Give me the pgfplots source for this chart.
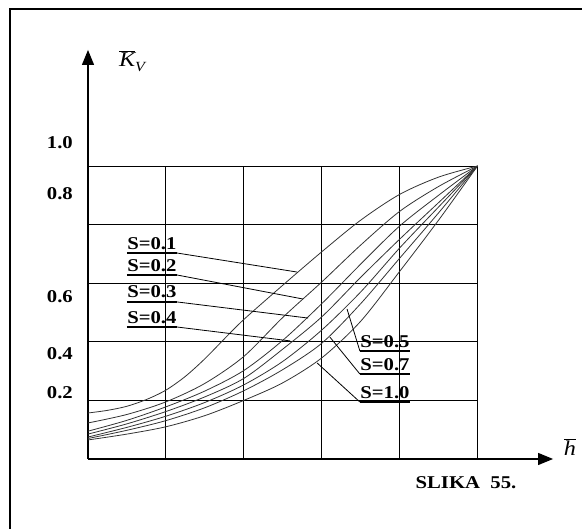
\documentclass[border=0pt]{standalone}
\usepackage{fontspec}
\setmainfont{Liberation Serif}
\newfontfamily\wide[FakeStretch=1.15]{Liberation Serif}
\usepackage{pgfplots}
\pgfplotsset{compat=1.18}
\usetikzlibrary{arrows.meta}

\newcommand{\lbl}{\wide\bfseries\fontsize{18bp}{20bp}\selectfont}
\newcommand{\sym}{\wide\itshape\fontsize{21bp}{23bp}\selectfont}

\begin{document}
\begin{tikzpicture}[x=1bp,y=1bp]
\useasboundingbox (0,0) rectangle (582,529);
% frame of the figure
\draw[line width=1.6bp] (10,0) -- (10,520) -- (582,520);

\begin{axis}[
    at={(88bp,70bp)}, anchor=origin,
    x=389.5bp, y=293bp,
    xmin=0, xmax=1.194, ymin=0, ymax=1.396,
    enlargelimits=false,
    axis lines=left,
    axis line style={line width=1.2bp, -{Triangle[length=15bp,width=12bp]}},
    xtick=\empty,
    ytick={0.225,0.358,0.553,0.904,1.078},
    yticklabels={0.2,0.4,0.6,0.8,1.0},
    major tick length=0pt,
    yticklabel style={font=\lbl, anchor=east, inner sep=0pt, xshift=-15bp},
    clip=false,
]
% grid
\draw[line width=0.9bp] (axis cs:0,0.2) -- (axis cs:1,0.2);
\draw[line width=0.9bp] (axis cs:0,0.4) -- (axis cs:1,0.4);
\draw[line width=0.9bp] (axis cs:0,0.6) -- (axis cs:1,0.6);
\draw[line width=0.9bp] (axis cs:0,0.8) -- (axis cs:1,0.8);
\draw[line width=0.9bp] (axis cs:0,1.0) -- (axis cs:1,1.0);
\draw[line width=0.9bp] (axis cs:0.2,0) -- (axis cs:0.2,1);
\draw[line width=0.9bp] (axis cs:0.4,0) -- (axis cs:0.4,1);
\draw[line width=0.9bp] (axis cs:0.6,0) -- (axis cs:0.6,1);
\draw[line width=0.9bp] (axis cs:0.8,0) -- (axis cs:0.8,1);
\draw[line width=0.9bp] (axis cs:1.0,0) -- (axis cs:1.0,1);

% curves, S = 0.1 ... 1.0
\addplot[black!80, line width=0.8bp, smooth] coordinates {
 (0,0.157) (0.05,0.166) (0.1,0.180) (0.15,0.203) (0.2,0.235) (0.25,0.282)
 (0.3,0.342) (0.35,0.410) (0.4,0.476) (0.5,0.593)
 (0.6,0.707) (0.7,0.815) (0.8,0.903) (0.9,0.962) (1,1)};
\addplot[black!80, line width=0.8bp, smooth] coordinates {
 (0,0.123) (0.1,0.152) (0.2,0.195) (0.3,0.258) (0.4,0.350) (0.5,0.483)
 (0.6,0.604) (0.7,0.730) (0.8,0.845) (0.9,0.930) (1,1)};
\addplot[black!80, line width=0.8bp, smooth] coordinates {
 (0,0.095) (0.1,0.132) (0.2,0.178) (0.3,0.232) (0.4,0.302) (0.5,0.405)
 (0.6,0.530) (0.7,0.665) (0.8,0.795) (0.9,0.900) (1,1)};
\addplot[black!80, line width=0.8bp, smooth] coordinates {
 (0,0.085) (0.1,0.120) (0.2,0.162) (0.3,0.212) (0.4,0.275) (0.5,0.375)
 (0.6,0.485) (0.7,0.620) (0.8,0.750) (0.9,0.875) (1,1)};
\addplot[black!80, line width=0.8bp, smooth] coordinates {
 (0,0.075) (0.1,0.108) (0.2,0.146) (0.3,0.193) (0.4,0.253) (0.5,0.333)
 (0.6,0.440) (0.7,0.570) (0.8,0.720) (0.9,0.860) (1,1)};
\addplot[black!80, line width=0.8bp, smooth] coordinates {
 (0,0.070) (0.1,0.098) (0.2,0.131) (0.3,0.175) (0.4,0.233) (0.5,0.305)
 (0.6,0.395) (0.7,0.530) (0.8,0.685) (0.9,0.840) (1,1)};
\addplot[black!80, line width=0.8bp, smooth] coordinates {
 (0,0.065) (0.1,0.085) (0.2,0.110) (0.3,0.148) (0.4,0.200) (0.5,0.260)
 (0.6,0.345) (0.7,0.470) (0.8,0.640) (0.9,0.815) (1,1)};

% labels with underline and leader
\node[font=\lbl, anchor=south, inner sep=0pt, yshift=3.5bp] at (axis cs:0.164,0.703) {S=0.1};
\draw[line width=1.6bp] (axis cs:0.100,0.703) -- (axis cs:0.2285,0.703);
\draw[line width=0.8bp] (axis cs:0.2285,0.703) -- (axis cs:0.537,0.638);

\node[font=\lbl, anchor=south, inner sep=0pt, yshift=3.5bp] at (axis cs:0.164,0.628) {S=0.2};
\draw[line width=1.6bp] (axis cs:0.100,0.628) -- (axis cs:0.2285,0.628);
\draw[line width=0.8bp] (axis cs:0.2285,0.628) -- (axis cs:0.552,0.546);

\node[font=\lbl, anchor=south, inner sep=0pt, yshift=3.5bp] at (axis cs:0.164,0.536) {S=0.3};
\draw[line width=1.6bp] (axis cs:0.100,0.536) -- (axis cs:0.2285,0.536);
\draw[line width=0.8bp] (axis cs:0.2285,0.536) -- (axis cs:0.565,0.481);

\node[font=\lbl, anchor=south, inner sep=0pt, yshift=3.5bp] at (axis cs:0.164,0.4505) {S=0.4};
\draw[line width=1.6bp] (axis cs:0.100,0.4505) -- (axis cs:0.2285,0.4505);
\draw[line width=0.8bp] (axis cs:0.2285,0.4505) -- (axis cs:0.519,0.403);

\node[font=\lbl, anchor=south, inner sep=0pt, yshift=3.5bp] at (axis cs:0.7625,0.3686) {S=0.5};
\draw[line width=1.6bp] (axis cs:0.698,0.3686) -- (axis cs:0.827,0.3686);
\draw[line width=0.8bp] (axis cs:0.698,0.3686) -- (axis cs:0.665,0.512);

\node[font=\lbl, anchor=south, inner sep=0pt, yshift=3.5bp] at (axis cs:0.7625,0.290) {S=0.7};
\draw[line width=1.6bp] (axis cs:0.698,0.290) -- (axis cs:0.827,0.290);
\draw[line width=0.8bp] (axis cs:0.698,0.290) -- (axis cs:0.621,0.416);

\node[font=\lbl, anchor=south, inner sep=0pt, yshift=3.5bp] at (axis cs:0.7625,0.1945) {S=1.0};
\draw[line width=1.6bp] (axis cs:0.698,0.1945) -- (axis cs:0.827,0.1945);
\draw[line width=0.8bp] (axis cs:0.698,0.1945) -- (axis cs:0.588,0.328);
\end{axis}

% axis names and caption
\node[font=\sym, inner sep=0pt] at (132,468) {\(\overline{\hbox{K}}\)\raisebox{-5bp}{\fontsize{14bp}{15bp}\selectfont V}};
\node[font=\sym, inner sep=0pt] at (570,82) {\(\overline{\hbox{h}}\)};
\node[font=\lbl, inner sep=0pt] at (466,46) {SLIKA\ \ 55.};
\end{tikzpicture}
\end{document}
